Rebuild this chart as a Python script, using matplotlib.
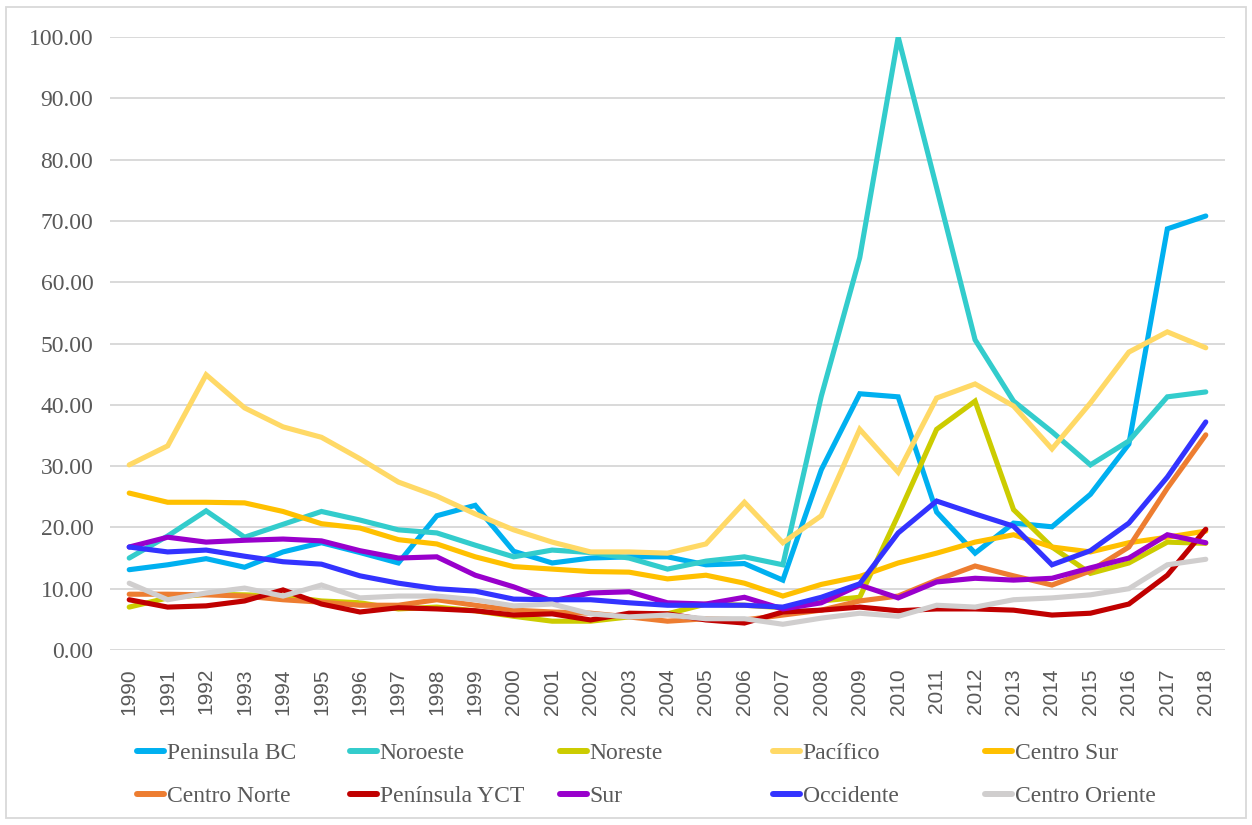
import numpy as np
import matplotlib
matplotlib.use("Agg")
import matplotlib.pyplot as plt
from matplotlib.patches import Rectangle

years = [str(y) for y in range(1990, 2019)]

peninsula_bc = [13.1, 13.9, 14.9, 13.5, 16.0, 17.5, 15.9, 14.2, 21.9, 23.6,
                16.1, 14.2, 15.0, 15.2, 15.2, 13.9, 14.1, 11.4, 29.4, 41.8,
                41.3, 22.5, 15.8, 20.7, 20.1, 25.4, 33.6, 68.7, 70.8]
noroeste = [15.0, 18.6, 22.7, 18.4, 20.5, 22.6, 21.2, 19.6, 19.1, 17.1,
            15.2, 16.3, 15.9, 15.0, 13.2, 14.5, 15.2, 13.9, 41.4, 64.0,
            100.0, 75.4, 50.6, 40.6, 35.6, 30.2, 34.1, 41.3, 42.1]
noreste = [7.0, 8.5, 9.1, 9.0, 8.8, 8.0, 7.7, 6.7, 7.0, 6.4,
           5.5, 4.7, 4.7, 5.4, 5.9, 7.5, 7.3, 6.9, 8.0, 8.6,
           22.0, 36.0, 40.6, 22.9, 16.8, 12.5, 14.2, 17.6, 17.4]
pacifico = [30.2, 33.3, 44.9, 39.5, 36.4, 34.7, 31.2, 27.4, 25.1, 22.2,
            19.6, 17.6, 16.0, 16.0, 15.8, 17.3, 24.1, 17.5, 21.9, 36.0,
            29.0, 41.1, 43.4, 39.8, 32.8, 40.3, 48.6, 51.9, 49.3]
centro_sur = [25.6, 24.1, 24.1, 24.0, 22.6, 20.6, 19.9, 18.0, 17.3, 15.2,
              13.6, 13.2, 12.8, 12.7, 11.6, 12.2, 10.9, 8.8, 10.7, 12.0,
              14.2, 15.8, 17.6, 18.8, 16.8, 16.0, 17.5, 18.4, 19.4]
centro_norte = [9.1, 9.1, 9.0, 8.8, 8.2, 7.8, 7.3, 7.3, 8.2, 7.3,
                6.5, 6.2, 6.0, 5.4, 4.7, 5.1, 4.9, 5.7, 6.5, 8.0,
                8.8, 11.4, 13.7, 12.1, 10.6, 12.9, 16.8, 26.4, 35.1]
peninsula_yct = [8.2, 7.0, 7.2, 8.0, 9.8, 7.5, 6.2, 6.9, 6.7, 6.4,
                 5.7, 5.9, 4.9, 6.0, 5.9, 4.9, 4.4, 6.2, 6.5, 7.0,
                 6.4, 6.7, 6.7, 6.5, 5.7, 6.0, 7.5, 12.2, 19.7]
sur = [16.8, 18.4, 17.6, 17.9, 18.1, 17.8, 16.2, 15.0, 15.2, 12.2,
       10.3, 8.0, 9.3, 9.5, 7.7, 7.5, 8.6, 6.7, 7.7, 10.6,
       8.5, 11.1, 11.7, 11.4, 11.7, 13.4, 15.0, 18.8, 17.5]
occidente = [16.8, 16.0, 16.3, 15.3, 14.4, 14.0, 12.1, 10.9, 10.0, 9.6,
             8.3, 8.2, 8.2, 7.7, 7.3, 7.3, 7.3, 7.0, 8.6, 10.8,
             19.1, 24.3, 22.2, 20.2, 13.9, 16.2, 20.7, 28.2, 37.2]
centro_oriente = [10.9, 8.2, 9.3, 10.1, 8.8, 10.6, 8.5, 8.8, 8.8, 8.2,
                  7.2, 7.5, 5.9, 5.4, 5.7, 5.1, 5.1, 4.2, 5.2, 6.0,
                  5.5, 7.3, 7.0, 8.2, 8.5, 9.0, 10.0, 13.9, 14.8]

names = ["Peninsula BC", "Noroeste", "Noreste", "Pacífico", "Centro Sur",
         "Centro Norte", "Península YCT", "Sur", "Occidente", "Centro Oriente"]
series = [peninsula_bc, noroeste, noreste, pacifico, centro_sur,
          centro_norte, peninsula_yct, sur, occidente, centro_oriente]
colors = ["#00B0F0", "#33CCCC", "#CCCC00", "#FFD966", "#FFC000",
          "#ED7D31", "#C00000", "#9900CC", "#3333FF", "#D0CECE"]

serif = ["Liberation Serif", "DejaVu Serif"]
txt_color = "#595959"

fig = plt.figure(figsize=(12.52, 8.25), dpi=100)
ax = fig.add_axes([110/1252, 1-650/825, (1225-110)/1252, (650-37)/825])

x = np.arange(len(years))
lines = []
for vals, name, c in zip(series, names, colors):
    ln, = ax.plot(x, vals, color=c, lw=3.7, solid_joinstyle="miter",
                  solid_capstyle="round", label=name)
    lines.append(ln)

ax.set_xlim(-0.5, len(years) - 0.5)
ax.set_ylim(0, 100)
ax.set_yticks(np.arange(0, 101, 10))
ax.set_yticklabels([f"{v:.2f}" for v in range(0, 101, 10)],
                   fontfamily=serif, fontsize=17, color=txt_color)
ax.set_xticks(x)
ax.set_xticklabels(years, rotation=90, fontfamily="Liberation Sans",
                   fontsize=15, color=txt_color)
ax.tick_params(axis="y", length=0, pad=12)
ax.tick_params(axis="x", length=0, pad=13)
ax.grid(axis="y", color="#D9D9D9", lw=1.4)
ax.set_axisbelow(True)
for s in ax.spines.values():
    s.set_visible(False)

# legend: equal-width columns like the spreadsheet legend
col_x = [137, 350, 560, 773, 985]
row_y = [753, 796]
for i, (ln, name) in enumerate(zip(lines, names)):
    r, c = divmod(i, 5)
    leg = fig.legend([ln], [name], loc="center left",
                     bbox_to_anchor=(col_x[c]/1252, 1 - row_y[r]/825),
                     frameon=False, borderpad=0, borderaxespad=0,
                     handlelength=1.15, handletextpad=0.1,
                     prop={"family": serif, "size": 17}, labelcolor=txt_color)
    for h in leg.get_lines():
        h.set_linewidth(4.3)

fig.add_artist(Rectangle((6/1252, 7/825), 1240/1252, 811/825,
                         transform=fig.transFigure, fill=False,
                         edgecolor="#D9D9D9", lw=1.3))

fig.savefig("out.png", dpi=100)
